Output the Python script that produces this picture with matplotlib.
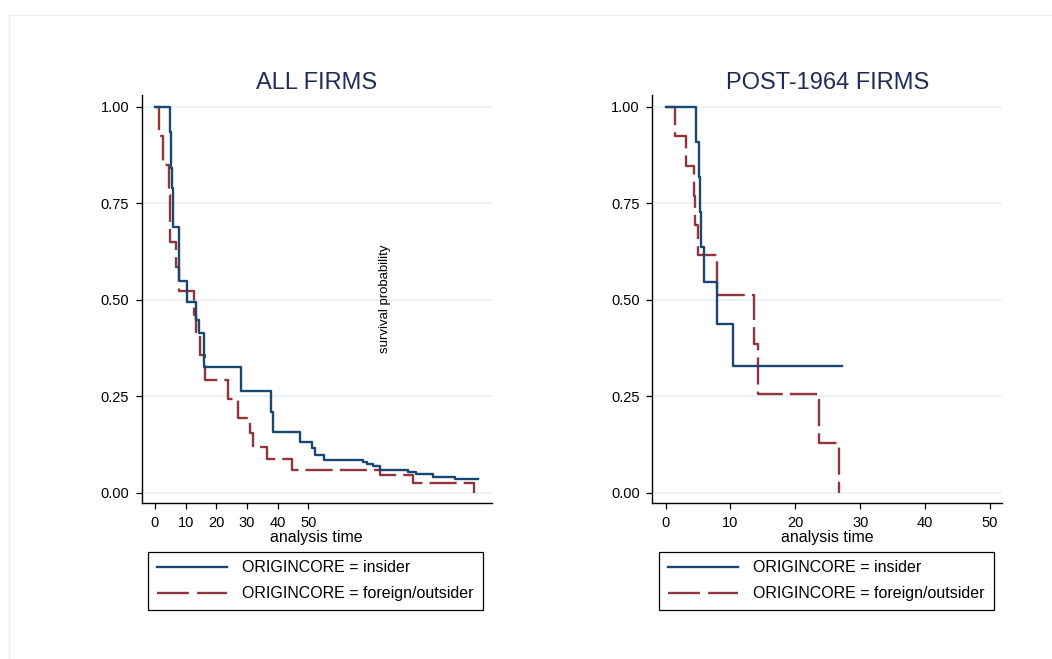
import matplotlib
matplotlib.use("Agg")
import matplotlib.pyplot as plt
from matplotlib.lines import Line2D
from matplotlib.patches import Rectangle

plt.rcParams['font.family'] = ['Liberation Sans', 'DejaVu Sans']

# Kaplan-Meier estimates, all firms (time, survival after the step)
all_ins_t = [0, 4.8, 5.1, 5.3, 5.5, 5.9, 6.0, 7.7, 8.0, 10.4, 13.4, 14.4, 16.0,
             28.2, 37.8, 38.5, 47.2, 51.2, 52.1, 55.2, 67.9, 69.0, 71.0, 73.3,
             82.5, 85.2, 90.7, 97.7, 105.3]
all_ins_s = [1.0, 0.934, 0.89, 0.84, 0.79, 0.748, 0.687, 0.616, 0.548, 0.495,
             0.447, 0.413, 0.326, 0.263, 0.21, 0.156, 0.13, 0.115, 0.098, 0.085,
             0.078, 0.074, 0.07, 0.059, 0.053, 0.048, 0.041, 0.035, 0.035]

all_out_t = [0, 1.3, 2.8, 4.5, 4.8, 5.0, 7.0, 7.7, 12.8, 13.5, 14.6, 16.2, 23.9,
             27.1, 30.9, 32.0, 36.4, 44.5, 73.3, 84.1, 104.0]
all_out_s = [1.0, 0.924, 0.848, 0.77, 0.715, 0.65, 0.585, 0.521, 0.46, 0.417,
             0.357, 0.292, 0.243, 0.194, 0.155, 0.119, 0.087, 0.059, 0.046,
             0.024, 0.0]

# Kaplan-Meier estimates, post-1964 firms
post_ins_t = [0, 4.66, 5.12, 5.28, 5.48, 5.89, 7.94, 10.4, 27.2]
post_ins_s = [1.0, 0.909, 0.818, 0.727, 0.636, 0.545, 0.436, 0.327, 0.327]

post_out_t = [0, 1.43, 3.07, 4.37, 4.55, 5.0, 7.85, 13.7, 14.2, 23.7, 26.8]
post_out_s = [1.0, 0.923, 0.846, 0.769, 0.692, 0.615, 0.513, 0.385, 0.256,
              0.128, 0.0]

y_ticks = [0, 0.25, 0.5, 0.75, 1.0]
y_labels = ['0.00', '0.25', '0.50', '0.75', '1.00']
x_ticks = [0, 10, 20, 30, 40, 50]
labels = ['ORIGINCORE = insider', 'ORIGINCORE = foreign/outsider']

blue = '#1a476f'
red = '#90353b'
grid_col = '#e9f1f3'
title_col = '#1f2d55'
lw = 1.7

W, H = 1052, 659
fig = plt.figure(figsize=(W / 100, H / 100), dpi=100)
fig.patch.set_facecolor('white')

# faint outer frame
fig.patches.append(Rectangle((9 / W, -0.2), 1.2, 1.2 - 15 / H,
                             transform=fig.transFigure, fill=False,
                             edgecolor='#eeeeee', linewidth=1))


def panel(x0, title, xlim, ins_t, ins_s, out_t, out_s, leg_x):
    ax = fig.add_axes([x0 / W, 1 - 503 / H, 350 / W, 408 / H])
    for y in y_ticks:
        ax.axhline(y, color=grid_col, linewidth=1.2, zorder=0)
    ax.step(ins_t, ins_s, where='post', color=blue, linewidth=lw, zorder=3)
    ax.step(out_t, out_s, where='post', color=red, linewidth=lw,
            dashes=(11.5, 3), zorder=2)
    ax.set_xlim(*xlim)
    ax.set_ylim(-0.027, 1.03)
    ax.set_xticks(x_ticks)
    ax.set_yticks(y_ticks)
    ax.set_yticklabels(y_labels)
    ax.tick_params(direction='out', length=4.5, width=0.9, labelsize=10.5,
                   color='black')
    ax.tick_params(axis='y', pad=4.5)
    ax.tick_params(axis='x', pad=5)
    for s in ['top', 'right']:
        ax.spines[s].set_visible(False)
    for s in ['left', 'bottom']:
        ax.spines[s].set_linewidth(1.0)
        ax.spines[s].set_color('black')
    ax.set_xlabel('analysis time', fontsize=11.5, labelpad=0)
    ax.set_title(title, fontsize=17, color=title_col, pad=4)

    handles = [Line2D([], [], color=blue, linewidth=lw),
               Line2D([], [], color=red, linewidth=lw, dashes=(13.5, 3.5))]
    leg = ax.legend(handles, labels, loc='upper left',
                    bbox_to_anchor=(leg_x / W, 1 - 551.7 / H),
                    bbox_transform=fig.transFigure, borderaxespad=0,
                    fontsize=11.5, handlelength=4.4, handletextpad=0.95,
                    borderpad=0.54, labelspacing=0.69, fancybox=False,
                    framealpha=1, edgecolor='black')
    leg.get_frame().set_linewidth(0.9)
    return ax


panel(141.7, 'ALL FIRMS', (-4.3, 109.7), all_ins_t, all_ins_s,
      all_out_t, all_out_s, 148.3)
panel(652.3, 'POST-1964 FIRMS', (-2.05, 51.9), post_ins_t, post_ins_s,
      post_out_t, post_out_s, 659.3)

fig.text(385 / W, 1 - 299 / H, 'survival probability', rotation=90,
         fontsize=9.5, ha='center', va='center')

fig.savefig('out.png', dpi=100)
